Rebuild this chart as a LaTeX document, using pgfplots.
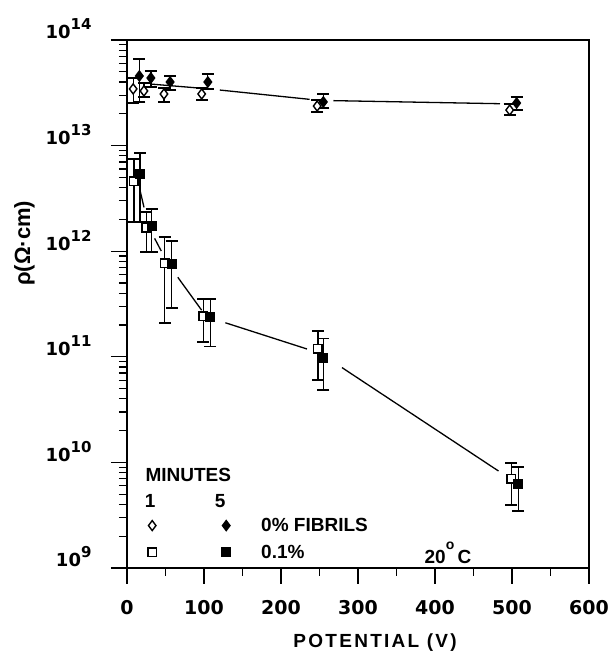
\documentclass[border=0pt]{standalone}
\usepackage{fontspec}
\setmainfont{Liberation Sans}
\newfontfamily\tickfont{DejaVu Sans}
\usepackage{pgfplots}
\usepackage{pgfplotstable}
\pgfplotsset{compat=1.18}

% x  y  error+ error-
\pgfplotstableread{
x   y        ep       em
8   3.44e13  0.93e13  0.91e13
22  3.29e13  0.63e13  0.41e13
48  3.08e13  0.43e13  0.49e13
97  3.08e13  0.43e13  0.38e13
247 2.37e13  0.33e13  0.29e13
497 2.17e13  0.31e13  0.22e13
}\openzero
\pgfplotstableread{
x   y        ep       em
16  4.56e13  2.05e13  1.97e13
31  4.37e13  0.71e13  0.78e13
56  4.00e13  0.56e13  0.63e13
105 4.00e13  0.77e13  0.56e13
255 2.59e13  0.49e13  0.32e13
506 2.53e13  0.35e13  0.36e13
}\fillzero
\pgfplotstableread{
x   y        ep       em
9   4.62e12  2.84e12  2.73e12
25  1.66e12  0.69e12  0.68e12
49  7.73e11  5.90e11  5.64e11
99  2.43e11  1.09e11  1.05e11
248 1.19e11  5.60e10  5.87e10
499 6.97e9   2.90e9   3.02e9
}\openone
\pgfplotstableread{
x   y        ep       em
17  5.38e12  3.13e12  3.49e12
32  1.73e12  0.78e12  0.75e12
58  7.57e11  4.93e11  4.67e11
108 2.38e11  1.14e11  1.12e11
255 9.75e10  5.05e10  4.90e10
508 6.24e9   2.80e9   2.77e9
}\fillone

\newcommand{\dec}[1]{10\raisebox{0.5em}{\fontsize{15}{15}\selectfont #1}}

\begin{document}
\begin{tikzpicture}[font=\bfseries\fontsize{19}{22}\selectfont]
\begin{axis}[
  name=ax,
  scale only axis,
  width=462pt, height=528pt,
  xmin=0, xmax=600,
  ymode=log, ymin=1e9, ymax=1e14,
  xtick={0,100,...,600}, minor x tick num=1,
  xticklabels={0,100,200,300,400,500,600},
  ytick={1e9,1e10,1e11,1e12,1e13,1e14},
  yticklabels={\dec{9},\dec{10},\dec{11},\dec{12},\dec{13},\dec{14}},
  tick align=outside, xtick pos=bottom, ytick pos=left,
  major tick length=16pt, minor tick length=8pt,
  every tick/.style={black, line width=1.3pt},
  axis line style={line width=1.8pt},
  tick label style={font=\tickfont\bfseries\fontsize{19}{22}\selectfont},
  xticklabel style={anchor=center, yshift=-24pt},
  yticklabel style={anchor=base east, xshift=-16pt, yshift=1pt,
    font=\tickfont\bfseries\fontsize{18}{22}\selectfont},
  xlabel={\addfontfeature{LetterSpace=12}POTENTIAL (V)},
  xlabel style={at={(axis description cs:0.537,0)}, anchor=center, yshift=-75pt},
  ylabel={\fontsize{22}{24}\selectfont ρ(Ω·cm)},
  ylabel style={at={(axis description cs:-0.222,0.615)}, anchor=center},
  error bars/y dir=both, error bars/y explicit,
  error bars/error mark options={rotate=90, black, mark size=6pt, line width=1.3pt},
  error bars/error bar style={black, line width=1.3pt},
  legend columns=2,
  legend cell align=left,
  legend image code/.code={\path[draw=none, fill=none] (0pt,-5pt) rectangle (70pt,5pt);
    \draw[#1] plot coordinates {(35pt,0pt)};},
  legend style={at={(axis description cs:-0.0216,0.0947)}, anchor=north west,
    draw=none, fill=none, inner sep=0pt, row sep=12pt,
    nodes={inner sep=0pt},
    /tikz/every even column/.append style={column sep=3pt}},
]
% connecting lines
\addplot[black, line width=1.3pt, forget plot] coordinates {(30,3.83e13) (105,3.45e13)};
\addplot[black, line width=1.3pt, shorten <=12pt, shorten >=10pt, forget plot] coordinates {(105,3.45e13) (250,2.68e13)};
\addplot[black, line width=1.3pt, shorten <=14pt, shorten >=12pt, forget plot] coordinates {(250,2.68e13) (500,2.48e13)};
\addplot[black, line width=1.3pt, shorten <=12pt, shorten >=20pt, forget plot] coordinates {(13,5.0e12) (28,1.70e12)};
\addplot[black, line width=1.3pt, shorten <=13pt, shorten >=14pt, forget plot] coordinates {(28,1.70e12) (53,7.65e11)};
\addplot[black, line width=1.3pt, shorten <=17pt, shorten >=8pt, forget plot] coordinates {(53,7.65e11) (103,2.4e11)};
\addplot[black, line width=1.3pt, shorten <=20pt, shorten >=14pt, forget plot] coordinates {(103,2.4e11) (251,1.08e11)};
\addplot[black, line width=1.3pt, shorten <=26pt, shorten >=19pt, forget plot] coordinates {(251,1.08e11) (503,6.6e9)};
% data
\addplot[only marks, mark=diamond*, mark size=5pt, mark options={draw=black, fill=white, line width=1.4pt}]
  table[x=x, y=y, y error plus=ep, y error minus=em] {\openzero};
\addlegendentry{}
\addplot[only marks, mark=diamond*, mark size=5pt, mark options={draw=black, fill=black, line width=1.4pt}]
  table[x=x, y=y, y error plus=ep, y error minus=em] {\fillzero};
\addlegendentry{0\% FIBRILS}
\addplot[only marks, mark=square*, mark size=4.2pt, mark options={draw=black, fill=white, line width=1.4pt}]
  table[x=x, y=y, y error plus=ep, y error minus=em] {\openone};
\addlegendentry{}
\addplot[only marks, mark=square*, mark size=4.2pt, mark options={draw=black, fill=black, line width=1.4pt}]
  table[x=x, y=y, y error plus=ep, y error minus=em] {\fillone};
\addlegendentry{0.1\%}
% text
\node[anchor=west] at (axis cs:19.5,7.6e9) {MINUTES};
\node at (axis cs:30,4.3e9) {1};
\node at (axis cs:121,4.3e9) {5};
\node[anchor=west] at (axis cs:382,1.39e9) {20\raisebox{0.75em}{\fontsize{14}{14}\selectfont o}\,C};
\end{axis}
\pgfresetboundingbox
\path ([xshift=-127pt,yshift=-83pt]ax.south west) rectangle ([xshift=21pt,yshift=40pt]ax.north east);
\end{tikzpicture}
\end{document}
